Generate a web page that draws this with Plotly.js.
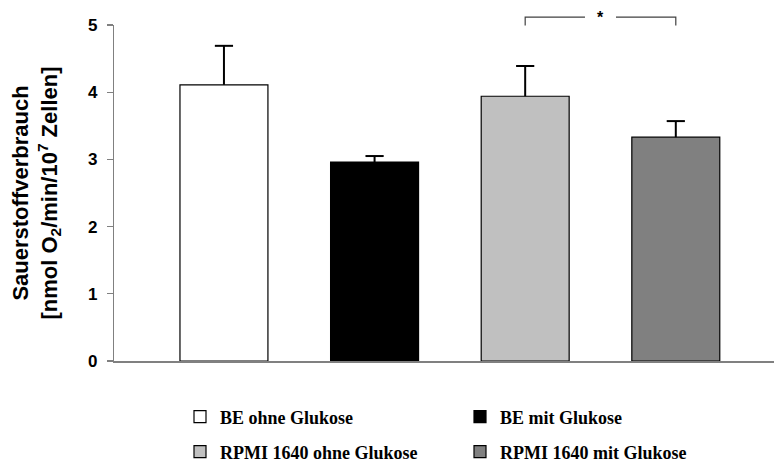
<!DOCTYPE html>
<html>
<head>
<meta charset="utf-8">
<script src="https://cdn.plot.ly/plotly-3.0.1.min.js"></script>
<style>html,body{margin:0;padding:0;background:#fff;}#chart{width:774px;height:463px;}</style>
</head>
<body>
<div id="chart"></div>
<script>
// Data
const categories = ["BE ohne Glukose", "BE mit Glukose", "RPMI 1640 ohne Glukose", "RPMI 1640 mit Glukose"];
const values = [4.11, 2.96, 3.94, 3.33];
const errors = [0.58, 0.09, 0.45, 0.24];
const colors = ["#ffffff", "#000000", "#c0c0c0", "#808080"];
const yTicks = [0, 1, 2, 3, 4, 5];
const sigPair = [2, 3];
const sigLabel = "*";

const legendIds = ["legend", "legend", "legend2", "legend2"];

const traces = categories.map((c, i) => ({
  type: "bar",
  name: c,
  x: [i],
  y: [values[i]],
  marker: { color: colors[i], line: { color: "#000000", width: 1.2 } },
  legend: legendIds[i],
  hoverinfo: "skip"
}));

// error bars (upper only): stems and caps built from values + errors
const stemX = [], stemY = [];
categories.forEach((c, i) => {
  stemX.push(i, i, null);
  stemY.push(values[i], values[i] + errors[i], null);
});
traces.push({
  type: "scatter", mode: "lines", x: stemX, y: stemY,
  line: { color: "#000000", width: 2 }, showlegend: false, hoverinfo: "skip", cliponaxis: false
});
traces.push({
  type: "scatter", mode: "markers",
  x: categories.map((c, i) => i),
  y: values.map((v, i) => v + errors[i]),
  marker: { symbol: "line-ew", size: 13, line: { color: "#000000", width: 2 } },
  showlegend: false, hoverinfo: "skip", cliponaxis: false
});

const gapL = sigPair[0] + 0.397;
const gapR = sigPair[0] + 0.603;
const yTop = 1.0232, yBot = 0.9985;

const legendCommon = {
  orientation: "h",
  xanchor: "left",
  yanchor: "middle",
  entrywidth: 235,
  entrywidthmode: "pixels",
  font: { family: "Liberation Serif, Times New Roman, serif", size: 18, color: "#000000", weight: "bold" },
  bgcolor: "rgba(0,0,0,0)",
  borderwidth: 0,
  traceorder: "normal"
};

const layout = {
  width: 774,
  height: 463,
  margin: { l: 114, r: 0, t: 24.5, b: 102, autoexpand: false },
  paper_bgcolor: "#ffffff",
  plot_bgcolor: "#ffffff",
  barmode: "overlay",
  bargap: 0.416,
  showlegend: true,
  legend: Object.assign({}, legendCommon, { x: 0.1, y: -0.1664 }),
  legend2: Object.assign({}, legendCommon, { x: 0.1, y: -0.2704 }),
  xaxis: {
    type: "linear",
    range: [-0.73, 3.652],
    showticklabels: false,
    ticks: "",
    showgrid: false,
    zeroline: false,
    showline: true,
    linecolor: "#808080",
    linewidth: 1.5,
    fixedrange: true
  },
  yaxis: {
    range: [0, 5],
    tickvals: yTicks,
    ticktext: yTicks.map(String),
    ticks: "outside",
    ticklen: 6,
    tickwidth: 1.2,
    tickcolor: "#808080",
    ticklabelstandoff: 6,
    showgrid: false,
    zeroline: false,
    showline: true,
    linecolor: "#808080",
    linewidth: 1.2,
    tickfont: { family: "Liberation Sans, Arial, sans-serif", size: 17, color: "#000000", weight: "bold" },
    title: {
      text: "<b>Sauerstoffverbrauch<br>[nmol O<sub>2</sub>/min/10<sup>7</sup> Zellen]</b>",
      font: { family: "Liberation Sans, Arial, sans-serif", size: 22, color: "#000000" },
      standoff: 24
    },
    fixedrange: true
  },
  shapes: [
    { type: "path", xref: "x", yref: "paper", path: `M ${sigPair[0]},${yBot} L ${sigPair[0]},${yTop} L ${gapL},${yTop}`, line: { color: "#404040", width: 1.2 } },
    { type: "path", xref: "x", yref: "paper", path: `M ${gapR},${yTop} L ${sigPair[1]},${yTop} L ${sigPair[1]},${yBot}`, line: { color: "#404040", width: 1.2 } }
  ],
  annotations: [
    { x: (sigPair[0] + sigPair[1]) / 2, y: yTop, xref: "x", yref: "paper", text: "<b>" + sigLabel + "</b>", showarrow: false, yanchor: "middle", xanchor: "center",
      font: { family: "Liberation Sans, Arial, sans-serif", size: 16, color: "#000000" } }
  ]
};

Plotly.newPlot("chart", traces, layout, { displayModeBar: false, staticPlot: true });
</script>
</body>
</html>
